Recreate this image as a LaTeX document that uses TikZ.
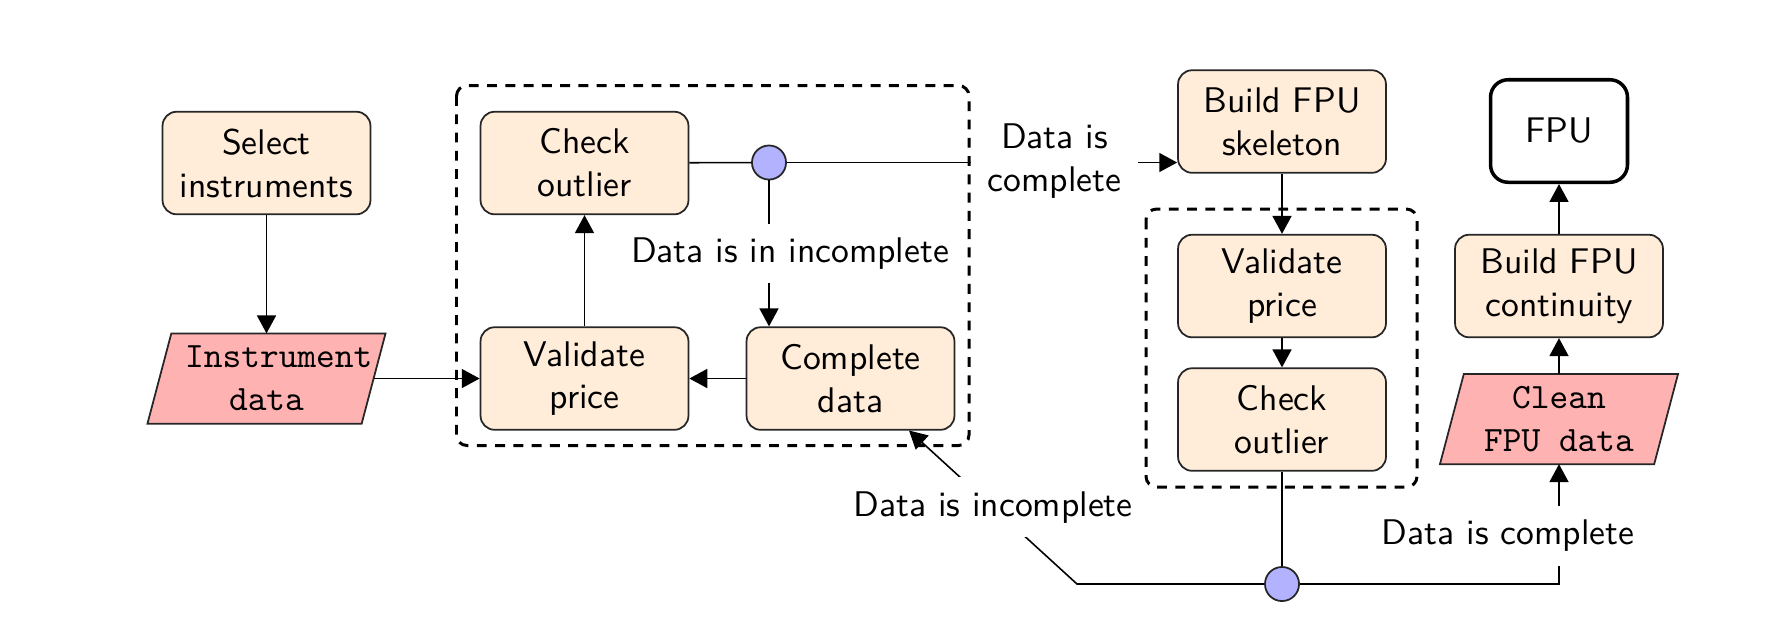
\documentclass[tikz,border=0pt]{standalone}
\usetikzlibrary{arrows.meta,backgrounds,calc}
\begin{document}
\begin{tikzpicture}[x=0.28474pt,y=-0.28474pt,
  font=\fontsize{10.15pt}{12.2pt}\selectfont\sffamily,
  box/.style={draw=black!85, fill=orange!15, rounded corners=4pt, align=center,
    minimum width=59.2pt, minimum height=29.2pt, inner sep=2pt, line width=0.5pt},
  fpubox/.style={draw=black, fill=white, rounded corners=5pt, align=center,
    minimum width=39pt, minimum height=29.2pt, line width=1pt},
  para/.style={align=center, font=\fontsize{10.15pt}{12.2pt}\selectfont\ttfamily,
    minimum width=60.6pt, minimum height=25.3pt, inner sep=0pt},
  parafill/.style={draw=black!85, fill=red!30, line width=0.5pt},
  junction/.style={circle, draw=black!85, fill=blue!30, minimum size=9.7pt,
    inner sep=0pt, line width=0.5pt},
  lbl/.style={fill=white, inner xsep=3pt, inner ysep=4pt, align=center},
  grp/.style={draw=black, line width=0.85pt, dash pattern=on 2.8pt off 2.4pt, rounded corners=3pt},
  arr/.style={-{Triangle[length=5.1pt,width=5.4pt]}, line width=0.45pt},
  con/.style={line width=0.45pt}
]
\useasboundingbox (0,0) rectangle (1788,640);

% nodes
\node[box] (select) at (266.5,163) {Select\\instruments};
\node[para] (idata) at (266.5,378.5) {\hspace*{7pt}Instrument\\data};
\node[box] (co1) at (584.5,163) {Check\\outlier};
\node[box] (vp1) at (584.5,378.5) {Validate\\price};
\node[box] (cd) at (850.5,378.5) {Complete\\data};
\node[junction] (c1) at (769,162.5) {};
\node[box] (skel) at (1282,121.5) {Build FPU\\skeleton};
\node[box] (vp2) at (1282,286) {Validate\\price};
\node[box] (co2) at (1282,419.5) {Check\\outlier};
\node[junction] (c2) at (1282,584) {};
\node[fpubox] (fpu) at (1559,131) {FPU};
\node[box] (bfc) at (1559,286) {Build FPU\\continuity};
\node[para] (clean) at (1559,419) {Clean\\FPU data};

\begin{scope}[on background layer]
  \draw[grp] (456.5,85.5) rectangle (969,445.5);
  \draw[grp] (1146,209) rectangle (1417,487);
  \path[parafill] ([xshift=3.4pt]idata.north west) -- ([xshift=3.4pt]idata.north east)
    -- ([xshift=-3.4pt]idata.south east) -- ([xshift=-3.4pt]idata.south west) -- cycle;
  \path[parafill] ([xshift=3.4pt]clean.north west) -- ([xshift=3.4pt]clean.north east)
    -- ([xshift=-3.4pt]clean.south east) -- ([xshift=-3.4pt]clean.south west) -- cycle;
\end{scope}

% connectors
\draw[arr] (select) -- (idata);
\draw[arr] (idata.east) -- (vp1.west);
\draw[arr] (vp1) -- (co1);
\draw[arr] (cd) -- (vp1);
\draw[con] (co1) -- (c1);
\draw[arr] (c1) -- (c1 -| skel.west);
\node[lbl, minimum width=47.6pt] (lc1) at (1054.5,161) {Data is\\complete};
\draw[arr] (c1) -- (c1 |- cd.north);
\node[lbl] (lin) at (790,253.5) {Data is in incomplete};
\draw[arr] (skel) -- (vp2);
\draw[arr] (vp2) -- (co2);
\draw[con] (co2) -- (c2);
\coordinate (br) at (1559,584);
\draw[arr] (c2) -- (br) -- (br |- clean.south);
\node[lbl] (lc2) at (1508,536) {Data is complete};
\coordinate (bl) at (1077,584);
\coordinate (cdin) at (909,430.5);
\draw[arr] (c2) -- (bl) -- node[lbl] (linc) {Data is incomplete} (cdin);
\draw[arr] (bfc) -- (fpu);
\draw[arr] (clean) -- (bfc);
\end{tikzpicture}
\end{document}
